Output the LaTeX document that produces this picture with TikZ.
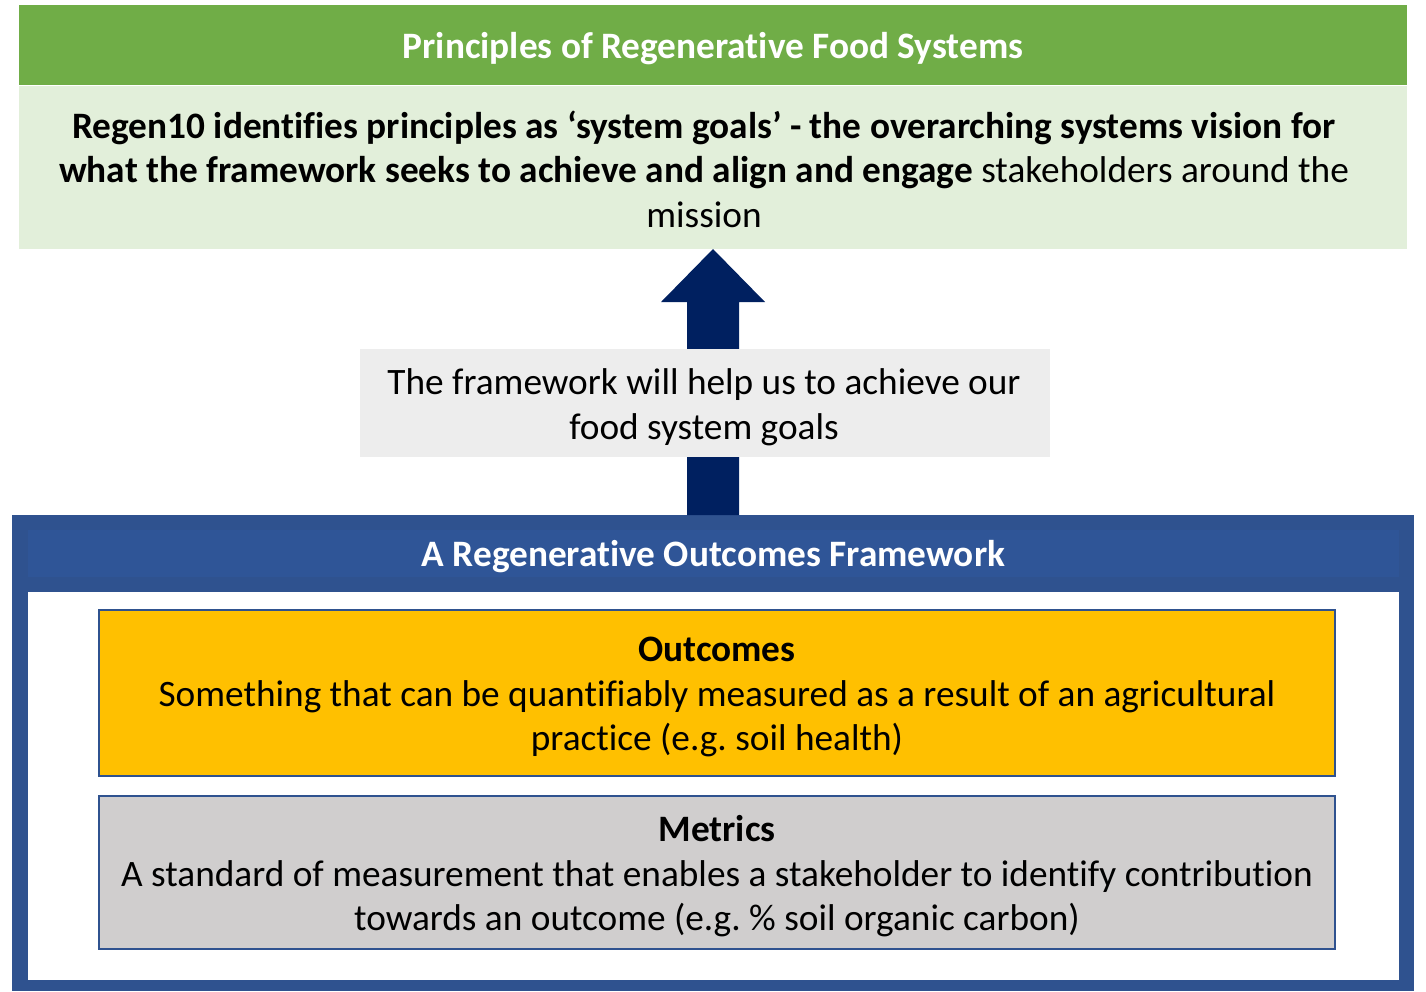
\documentclass[tikz,border=0pt]{standalone}
\usepackage{fontspec}
\setmainfont[Ligatures=NoCommon]{Carlito}
\usetikzlibrary{calc}
\frenchspacing
\definecolor{hdrgreen}{HTML}{70AD47}
\definecolor{lightgreen}{HTML}{E2EFDA}
\definecolor{arrownavy}{HTML}{002060}
\definecolor{helpgray}{HTML}{EDEDED}
\definecolor{frameblue}{HTML}{2F528F}
\definecolor{framehdr}{HTML}{2F5597}
\definecolor{outyellow}{HTML}{FFC000}
\definecolor{metgray}{HTML}{D0CECE}
\begin{document}
\begin{tikzpicture}[x=1pt,y=-1pt,
  every node/.style={inner sep=0pt, outer sep=0pt, rectangle},
  bodyfont/.style={font=\fontsize{37.3}{44.5}\selectfont},
  hdrfont/.style={font=\bfseries\fontsize{37.3}{44.5}\selectfont, text=white},
  panel/.style={anchor=north west},
  txt/.style={align=center, bodyfont},
  innerbox/.style={panel, draw=frameblue, line width=2pt}]
\useasboundingbox (0,0) rectangle (1426,991);

% top green header
\node[panel, fill=hdrgreen, minimum width=1388pt, minimum height=80pt] (ptitle) at (19,5) {};
\node[hdrfont] (ptitletext) at ([yshift=-4pt]ptitle.center) {Principles of Regenerative Food Systems};
% light green principles box
\node[panel, fill=lightgreen, minimum width=1388pt, minimum height=163pt] (princ) at (19,86) {};
\node[txt] (princtext) at (704,169) {\textbf{Regen10 identifies principles as ‘system goals’ - the overarching systems vision for}\\
\textbf{what the framework seeks to achieve and align and engage} stakeholders around the\\
mission};

% framework outer box
\node[panel, fill=frameblue, minimum width=1402pt, minimum height=476pt] (fw) at (12,515) {};
\node[panel, fill=framehdr, minimum width=1371pt, minimum height=47pt] (fwtitle) at (28,530) {};
\node[hdrfont] (fwtitletext) at ([yshift=-3pt]fwtitle.center) {A Regenerative Outcomes Framework};
\node[panel, fill=white, minimum width=1371pt, minimum height=388pt] (fwbody) at (28,592) {};

% block arrow from framework up to principles
\fill[arrownavy] ([xshift=-26pt]fw.north) -- ([xshift=-26pt,yshift=-53pt]princ.south)
  -- ([xshift=-52pt,yshift=-53pt]princ.south) -- (princ.south)
  -- ([xshift=52pt,yshift=-53pt]princ.south) -- ([xshift=26pt,yshift=-53pt]princ.south)
  -- ([xshift=26pt]fw.north) -- cycle;

% help text box
\node[panel, fill=helpgray, minimum width=690pt, minimum height=108pt] (help) at (360,349) {};
\node[txt] (helptext) at ([xshift=-1pt,yshift=-4pt]help.center) {The framework will help us to achieve our\\ food system goals};

% outcomes and metrics
\node[innerbox, fill=outyellow, minimum width=1236pt, minimum height=166pt] (outc) at (99,610) {};
\node[txt] (outctext) at ([yshift=-4pt]outc.center) {\textbf{Outcomes}\\ Something that can be quantifiably measured as a result of an agricultural\\ practice (e.g. soil health)};
\node[innerbox, fill=metgray, minimum width=1236pt, minimum height=153pt] (metr) at (99,796) {};
\node[txt] (metrtext) at ([yshift=-4pt]metr.center) {\textbf{Metrics}\\ A standard of measurement that enables a stakeholder to identify contribution\\ towards an outcome (e.g. \% soil organic carbon)};
\end{tikzpicture}
\end{document}
